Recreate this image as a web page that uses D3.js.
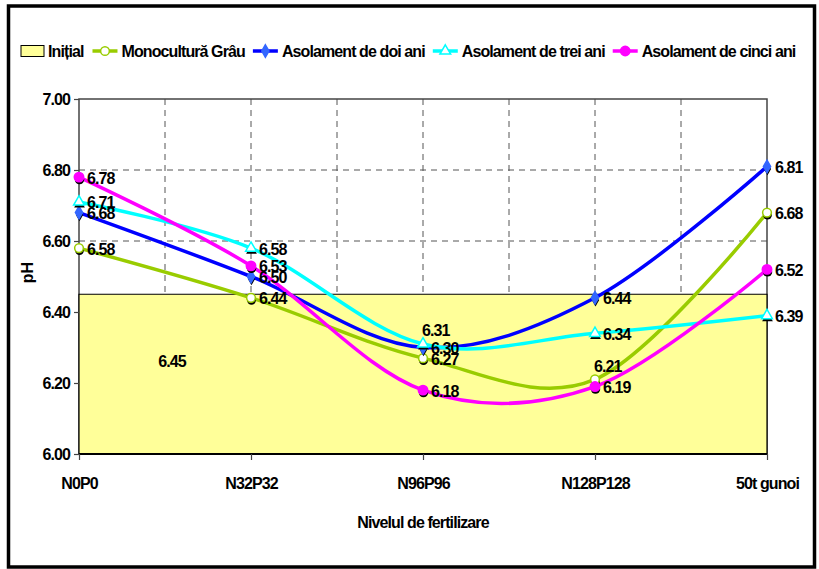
<!DOCTYPE html>
<html>
<head>
<meta charset="utf-8">
<script src="https://cdn.jsdelivr.net/npm/d3@7"></script>
<style>
  html, body { margin: 0; padding: 0; background: #fff; }
  svg { display: block; }
  text { font-family: "Liberation Sans", Arial, sans-serif; font-weight: bold; fill: #000; }
</style>
</head>
<body>
<svg id="chart" width="819" height="569"></svg>
<script>
// Fertilisation levels (x categories)
const categories = ["N0P0", "N32P32", "N96P96", "N128P128", "50t gunoi"];

// Initial soil pH (drawn as a flat area)
const initialName = "Inițial";
const initialValue = 6.45;

// pH per crop rotation
const seriesNames = ["Monocultură Grâu", "Asolament de doi ani", "Asolament de trei ani", "Asolament de cinci ani"];
const monoculturaGrau = [6.58, 6.44, 6.27, 6.21, 6.68];
const asolamentDoiAni = [6.68, 6.50, 6.30, 6.44, 6.81];
const asolamentTreiAni = [6.71, 6.58, 6.31, 6.34, 6.39];
const asolamentCinciAni = [6.78, 6.53, 6.18, 6.19, 6.52];

// Y axis ticks
const yTicks = [6.00, 6.20, 6.40, 6.60, 6.80, 7.00];

const yTitle = "pH";
const xTitle = "Nivelul de fertilizare";

const seriesValues = [monoculturaGrau, asolamentDoiAni, asolamentTreiAni, asolamentCinciAni];
const seriesStyle = [
  { line: "#99CC00", fill: "#FFFFFF", stroke: "#99CC00", symbol: d3.symbolCircle, size: 60 },
  { line: "#0000FF", fill: "#3366FF", stroke: "#3366FF", symbol: d3.symbolDiamond, size: 45 },
  { line: "#00FFFF", fill: "#FFFFFF", stroke: "#00FFFF", symbol: d3.symbolTriangle, size: 50 },
  { line: "#FF00FF", fill: "#FF00FF", stroke: "#FF00FF", symbol: d3.symbolCircle, size: 70 }
];
// labels that sit above their point instead of to its right: [series, category]
const labelsAbove = [[2, 2], [0, 3]];

const FS = 16, LS = "-0.9";
const W = 819, H = 569;
const margin = { left: 79, right: 52, top: 99, bottom: 115 };
const svg = d3.select("#chart");

// chart area frame
svg.append("rect")
  .attr("x", 8.5).attr("y", 6).attr("width", 806).attr("height", 561)
  .attr("fill", "#fff").attr("stroke", "#000").attr("stroke-width", 3.5);

const x = d3.scalePoint().domain(categories).range([margin.left, W - margin.right]).padding(0);
const y = d3.scaleLinear().domain([6, 7]).range([H - margin.bottom, margin.top]);

const x0 = x.range()[0], x1 = x.range()[1];
const step = x.step();

// gridlines
const grid = svg.append("g");
const vgrid = [];
categories.forEach((c, i) => {
  if (i > 0 && i < categories.length - 1) vgrid.push(x(c));
  if (i < categories.length - 1) vgrid.push(x(c) + step / 2);
});
grid.selectAll("line.v").data(vgrid).join("line")
  .attr("x1", d => d).attr("x2", d => d)
  .attr("y1", y(7)).attr("y2", y(6))
  .attr("stroke", "#555").attr("stroke-width", 1).attr("stroke-dasharray", "6,5");
grid.selectAll("line.h").data(yTicks.filter(t => t > 6 && t < 7)).join("line")
  .attr("x1", x0).attr("x2", x1)
  .attr("y1", d => y(d)).attr("y2", d => y(d))
  .attr("stroke", "#555").attr("stroke-width", 1).attr("stroke-dasharray", "6,5");

// plot area border (top, left, right)
svg.append("path")
  .attr("d", `M${x0},${y(6)}V${y(7)}H${x1}V${y(6)}`)
  .attr("fill", "none").attr("stroke", "#444").attr("stroke-width", 1.5);

// initial pH area
const area = d3.area().x(d => x(d)).y0(y(6)).y1(y(initialValue));
svg.append("path")
  .datum(categories)
  .attr("d", area)
  .attr("fill", "#FFFF99").attr("stroke", "#000").attr("stroke-width", 1.2);
svg.append("text")
  .attr("x", x(categories[0]) + step / 2 + 7)
  .attr("y", y((initialValue + 6) / 2 + 0.035))
  .attr("text-anchor", "middle").attr("dominant-baseline", "central")
  .attr("font-size", FS).attr("letter-spacing", LS)
  .text(initialValue.toFixed(2));

// axes
const yAxis = d3.axisLeft(y).tickValues(yTicks).tickFormat(d3.format(".2f")).tickSize(5).tickPadding(4);
const gy = svg.append("g").attr("transform", `translate(${x0},0)`).call(yAxis);
gy.select(".domain").remove();
gy.selectAll(".tick line").attr("stroke", "#444").attr("stroke-width", 1.2);
gy.selectAll(".tick text").attr("font-size", FS).attr("letter-spacing", LS)
  .attr("font-family", "Liberation Sans, Arial, sans-serif").attr("font-weight", "bold").attr("fill", "#000");

const xAxis = d3.axisBottom(x).tickSize(6).tickPadding(18);
const gx = svg.append("g").attr("transform", `translate(0,${y(6)})`).call(xAxis);
gx.select(".domain").attr("stroke", "#000").attr("stroke-width", 2).attr("d", `M${x0},0H${x1}`);
gx.selectAll(".tick line").attr("stroke", "#444").attr("stroke-width", 1.2);
gx.selectAll(".tick text").attr("font-size", FS).attr("letter-spacing", LS)
  .attr("font-family", "Liberation Sans, Arial, sans-serif").attr("font-weight", "bold").attr("fill", "#000");

// axis titles
svg.append("text")
  .attr("transform", `translate(27,${(y(6) + y(7)) / 2 - 4}) rotate(-90)`)
  .attr("text-anchor", "middle").attr("dominant-baseline", "central")
  .attr("font-size", FS).text(yTitle);
svg.append("text")
  .attr("x", x(categories[2])).attr("y", 522)
  .attr("text-anchor", "middle").attr("dominant-baseline", "central")
  .attr("font-size", FS).attr("letter-spacing", LS).text(xTitle);

// series lines
const line = d3.line().x((d, i) => x(categories[i])).y(d => y(d)).curve(d3.curveCardinal.tension(0));
const gSeries = svg.append("g");
seriesValues.forEach((vals, s) => {
  gSeries.append("path").datum(vals)
    .attr("d", line)
    .attr("fill", "none").attr("stroke", seriesStyle[s].line)
    .attr("stroke-width", 3.5).attr("stroke-linejoin", "round");
});

// markers with a small dark shadow
seriesValues.forEach((vals, s) => {
  const st = seriesStyle[s];
  const sym = d3.symbol().type(st.symbol).size(st.size);
  const g = svg.append("g");
  g.selectAll("path.sh").data(vals).join("path")
    .attr("d", sym)
    .attr("transform", (d, i) => `translate(${x(categories[i]) + 0.5},${y(d) + 2.5})`)
    .attr("fill", "#000");
  g.selectAll("path.mk").data(vals).join("path")
    .attr("d", sym)
    .attr("transform", (d, i) => `translate(${x(categories[i])},${y(d)})`)
    .attr("fill", st.fill).attr("stroke", st.stroke).attr("stroke-width", 1.5);
});

// data labels
seriesValues.forEach((vals, s) => {
  svg.append("g").selectAll("text").data(vals).join("text")
    .attr("x", (d, i) => {
      const above = labelsAbove.some(p => p[0] === s && p[1] === i);
      return x(categories[i]) + (above ? -1 : 8);
    })
    .attr("y", (d, i) => {
      const above = labelsAbove.some(p => p[0] === s && p[1] === i);
      return y(d) + (above ? -13 : 1);
    })
    .attr("dominant-baseline", "central")
    .attr("font-size", FS).attr("letter-spacing", LS)
    .text(d => d.toFixed(2));
});

// legend
const legend = svg.append("g").attr("transform", "translate(21,51)");
let lx = 0;
legend.append("rect").attr("x", lx).attr("y", -5.5).attr("width", 23).attr("height", 11)
  .attr("fill", "#FFFF99").attr("stroke", "#000").attr("stroke-width", 1);
lx += 27;
let t = legend.append("text").attr("x", lx).attr("y", 0).attr("dominant-baseline", "central")
  .attr("font-size", FS).attr("letter-spacing", LS).text(initialName);
lx += t.node().getComputedTextLength() + 9;
seriesNames.forEach((name, s) => {
  const st = seriesStyle[s];
  legend.append("line").attr("x1", lx).attr("x2", lx + 25).attr("y1", 0).attr("y2", 0)
    .attr("stroke", st.line).attr("stroke-width", 3.5);
  legend.append("path").attr("d", d3.symbol().type(st.symbol).size(st.size)())
    .attr("transform", `translate(${lx + 12.5},0)`)
    .attr("fill", st.fill).attr("stroke", st.stroke).attr("stroke-width", 1.5);
  lx += 29;
  const tt = legend.append("text").attr("x", lx).attr("y", 0).attr("dominant-baseline", "central")
    .attr("font-size", FS).attr("letter-spacing", LS).text(name);
  lx += tt.node().getComputedTextLength() + 8;
});
</script>
</body>
</html>
